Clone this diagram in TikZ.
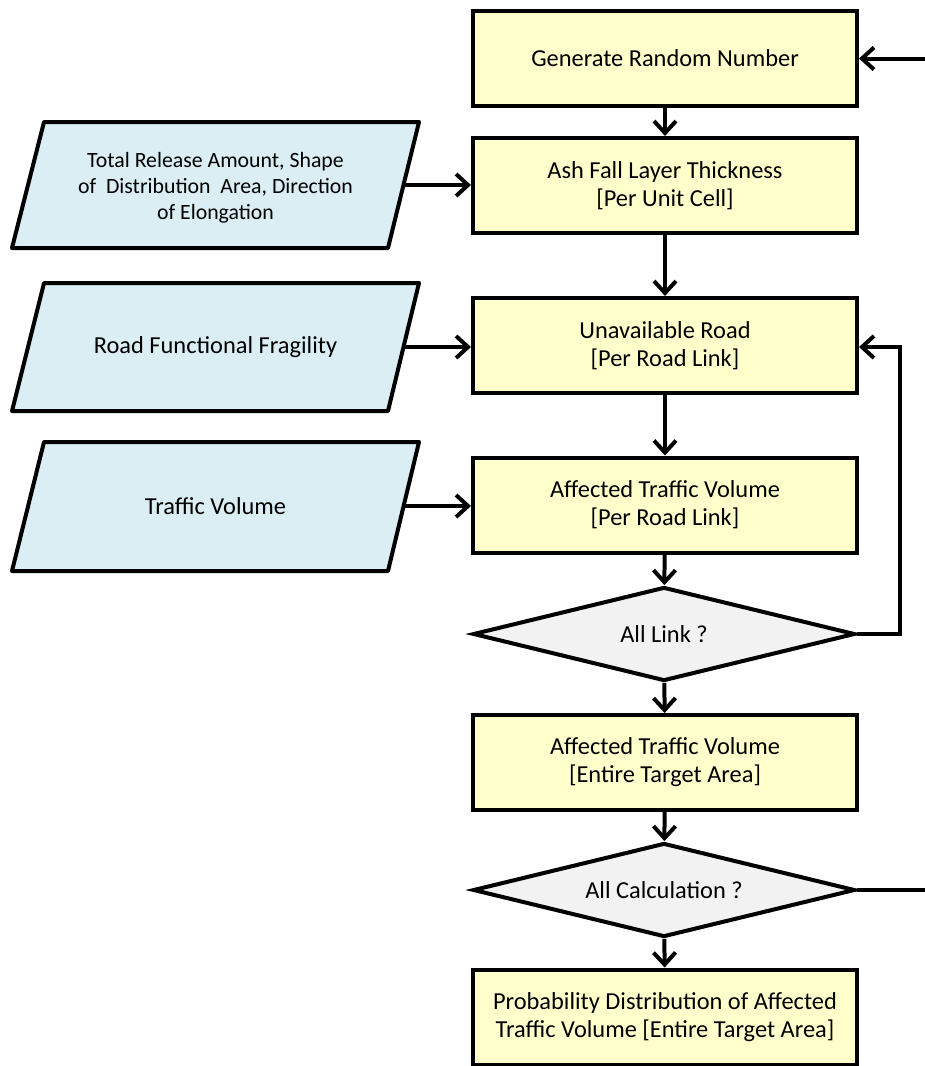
\documentclass[tikz,border=0pt]{standalone}
\usepackage{fontspec}
\setmainfont{Carlito}
\usetikzlibrary{arrows.meta,shapes.geometric}
\definecolor{boxyellow}{HTML}{FFFFCC}
\definecolor{parablue}{HTML}{DAEEF3}
\definecolor{diagrey}{HTML}{F2F2F2}
\tikzset{
  every node/.style={font=\fontsize{24.4}{28}\selectfont, align=center},
  stepbox/.style={draw, line width=4pt, fill=boxyellow, rectangle, minimum width=384pt, minimum height=95pt, inner sep=0pt},
  parashape/.style={draw, line width=4pt, fill=parablue, line join=round},
  paratext/.style={inner sep=0pt, font=\fontsize{24.4}{26}\selectfont},
  paratextsmall/.style={inner sep=0pt, font=\fontsize{21.8}{26}\selectfont},
  decide/.style={draw, line width=4pt, fill=diagrey, diamond, aspect=4, minimum width=382pt, minimum height=94pt, inner sep=0pt},
  flow/.style={line width=4pt, -{Straight Barb[length=12pt,width=22pt,line width=4pt]}},
  plain/.style={line width=4pt}
}
\begin{document}
\begin{tikzpicture}[x=1pt,y=-1pt]
\useasboundingbox (0,0) rectangle (925,1066);
\node[stepbox] (b1) at (665,58.5) {Generate Random Number};
\node[stepbox] (b2) at (665,185.5) {Ash Fall Layer Thickness\\{}[Per Unit Cell]};
\node[stepbox] (b3) at (665,345.5) {Unavailable Road\\{}[Per Road Link]};
\node[stepbox] (b4) at (665,505) {Affected Traffic Volume\\{}[Per Road Link]};
\node[decide] (d1) at (664,634) {All Link ?};
\node[stepbox] (b5) at (665,762.5) {Affected Traffic Volume\\{}[Entire Target Area]};
\node[decide] (d2) at (664,890) {All Calculation ?};
\node[stepbox] (b6) at (665,1017) {Probability Distribution of Affected\\Traffic Volume [Entire Target Area]};

% input parallelograms
\draw[parashape] (12,248) -- (44,122) -- (419,122) -- (388,248) -- cycle;
\node[paratextsmall] (p1) at (215.5,188) {Total Release Amount, Shape\\of\ \ Distribution\ \ Area, Direction\\of Elongation};
\coordinate (p1out) at (403.5,185);
\draw[parashape] (12,411) -- (44,283) -- (419,283) -- (388,411) -- cycle;
\node[paratext] (p2) at (215.5,347) {Road Functional Fragility};
\coordinate (p2out) at (403.5,347);
\draw[parashape] (12,571) -- (44,442) -- (419,442) -- (388,571) -- cycle;
\node[paratext] (p3) at (215.5,506) {Traffic Volume};
\coordinate (p3out) at (403.5,506);

\draw[flow] (b1) -- (b2);
\draw[flow] (b2) -- (b3);
\draw[flow] (b3) -- (b4);
\draw[flow] (b4) -- (d1);
\draw[flow] (d1) -- (b5);
\draw[flow] (b5) -- (d2);
\draw[flow] (d2) -- (b6);

\draw[flow] (p1out) -- (p1out -| b2.west);
\draw[flow] (p2out) -- (p2out -| b3.west);
\draw[flow] (p3out) -- (p3out -| b4.west);

\draw[flow] (d1.east) -- (900,634) -- (900,347) -- (b3.east |- 0,347);
\coordinate (loopin) at (925,58.5);
\coordinate (loopout) at (925,890);
\draw[flow] (loopin) -- (b1.east);
\draw[plain] (d2.east) -- (loopout);
\end{tikzpicture}
\end{document}
